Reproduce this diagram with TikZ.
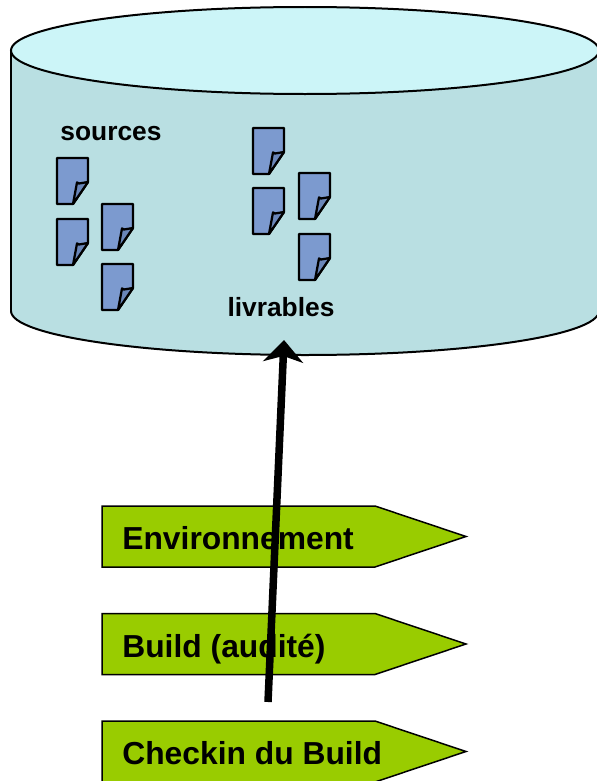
\documentclass[tikz,border=0pt]{standalone}
\usepackage{fontspec}
\setmainfont{Liberation Sans}
\usetikzlibrary{arrows.meta}

\definecolor{tanktop}{HTML}{CCF5F8}
\definecolor{tankside}{HTML}{B9DFE2}
\definecolor{tagfill}{HTML}{99CC00}
\definecolor{sheetfill}{HTML}{7C9ACF}
\definecolor{foldfill}{HTML}{6A86B8}

\tikzset{
    tank/.style={draw=black, line width=0.04cm},
    tagbox/.style={draw=black, line width=0.03cm, fill=tagfill},
    sheet/.style={draw=black, line width=0.045cm, line join=round},
    taglabel/.style={anchor=base west, inner sep=0, font=\bfseries\fontsize{18.1}{20}\selectfont},
    storelabel/.style={anchor=base, inner sep=0, font=\bfseries\fontsize{15}{17}\selectfont},
    bigarrow/.style={line width=0.15cm, -{Stealth[length=0.44cm, width=0.8cm, inset=0.12cm]}}
}

\begin{document}
\begin{tikzpicture}[x=0.02cm, y=-0.02cm]
    \useasboundingbox (0,0) rectangle (597,781);

    % tank
    \draw [tank, fill=tankside] (11,50.5) -- (11,311) arc (180:0:294 and 44)
        -- (599,50.5) -- cycle;
    \draw [tank, fill=tanktop] (305,50.5) ellipse (294 and 43.5);

    % documents
    \foreach \x/\y/\n in {57/158/a, 57/219/b, 102/204/c, 102/264/d,
                          253/128/e, 253/188/f, 299/173/g, 299/234/h} {
        \begin{scope}[shift={(\x,\y)}]
            \draw [sheet, fill=sheetfill] (0,0) -- (31,0) -- (31,24) -- (16,46)
                -- (0,46) -- cycle;
            \draw [sheet, fill=foldfill] (16,46) -- (20,24.5) -- (22,25.5)
                -- (31,24) -- cycle;
        \end{scope}
    }
    \node [storelabel] (sources) at (111,140) {sources};
    \node [storelabel] (livrables) at (281,316) {livrables};

    % tags
    \draw [tagbox] (102,506) -- (375,506) -- (466,536.5) -- (375,567) -- (102,567) -- cycle;
    \draw [tagbox] (102,613.5) -- (375,613.5) -- (466,644) -- (375,674.5) -- (102,674.5) -- cycle;
    \draw [tagbox] (102,721) -- (375,721) -- (466,751.5) -- (375,782) -- (102,782) -- cycle;
    \node [taglabel] (env) at (122,549) {Environnement};
    \node [taglabel] (build) at (122,657) {Build (audité)};
    \node [taglabel] (checkin) at (122,764) {Checkin du Build};

    % arrow
    \coordinate (start) at (268,702);
    \coordinate (tip) at (284,340);
    \draw [bigarrow] (start) -- (tip);
\end{tikzpicture}
\end{document}
